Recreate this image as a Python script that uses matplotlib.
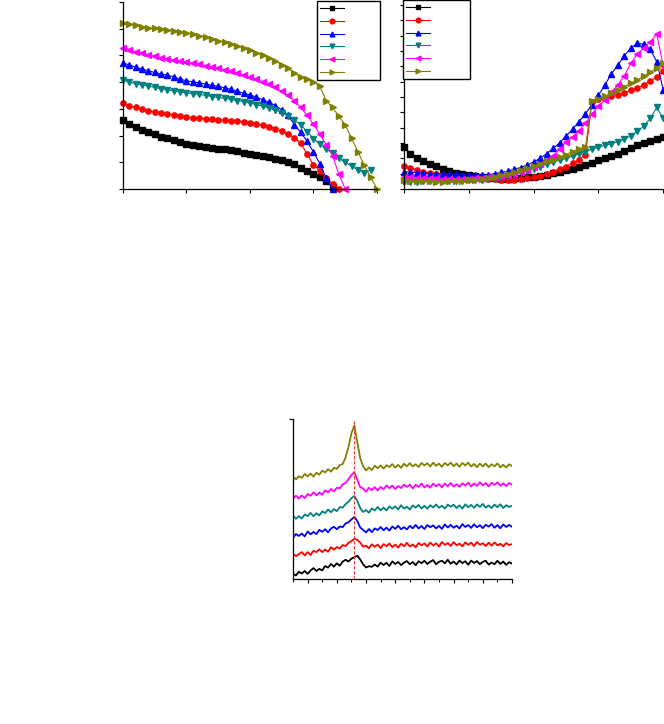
import matplotlib
matplotlib.use("Agg")
import matplotlib.pyplot as plt
from matplotlib.ticker import MultipleLocator

# shared x grid for the two upper panels
volt = [0.0, 0.1, 0.2, 0.3, 0.4, 0.5, 0.6, 0.7, 0.8, 0.9,
        1.0, 1.1, 1.2, 1.3, 1.4, 1.5, 1.6, 1.7, 1.8, 1.9,
        2.0, 2.1, 2.2, 2.3, 2.4, 2.5, 2.6, 2.7, 2.8, 2.9,
        3.0, 3.1, 3.2, 3.3, 3.4, 3.5, 3.6, 3.7, 3.8, 3.9, 4.0]

# upper left panel
jv_black = [2.58, 2.42, 2.32, 2.22, 2.12, 2.04, 1.96, 1.9, 1.82, 1.76,
            1.7, 1.65, 1.61, 1.57, 1.54, 1.51, 1.48, 1.45, 1.41, 1.36,
            1.32, 1.28, 1.24, 1.19, 1.13, 1.07, 1.0, 0.93, 0.78, 0.68,
            0.56, 0.45, 0.3, 0.08]
jv_red = [3.2, 3.12, 3.05, 2.98, 2.93, 2.89, 2.85, 2.81, 2.77, 2.73,
          2.7, 2.67, 2.65, 2.63, 2.61, 2.6, 2.58, 2.56, 2.54, 2.51,
          2.48, 2.44, 2.39, 2.33, 2.26, 2.16, 2.05, 1.92, 1.72, 1.3,
          0.9, 0.68, 0.4, 0.2, 0.0]
jv_blue = [4.72, 4.64, 4.56, 4.49, 4.42, 4.36, 4.3, 4.26, 4.2, 4.11,
           4.05, 4.01, 3.97, 3.93, 3.88, 3.84, 3.79, 3.73, 3.66, 3.58,
           3.52, 3.44, 3.34, 3.24, 3.12, 2.96, 2.76, 2.4, 2.12, 1.78,
           1.38, 0.95, 0.4, 0.0]
jv_teal = [4.08, 4.0, 3.94, 3.9, 3.85, 3.8, 3.75, 3.71, 3.67, 3.63,
           3.6, 3.57, 3.54, 3.5, 3.46, 3.43, 3.39, 3.35, 3.31, 3.27,
           3.22, 3.16, 3.1, 3.03, 2.96, 2.86, 2.74, 2.58, 2.4, 2.15,
           1.88, 1.68, 1.5, 1.33, 1.15, 1.0, 0.85, 0.72, 0.6, 0.72]
jv_magenta = [5.29, 5.22, 5.14, 5.09, 5.02, 4.97, 4.92, 4.87, 4.82, 4.78,
              4.74, 4.7, 4.66, 4.62, 4.57, 4.52, 4.46, 4.4, 4.33, 4.26,
              4.19, 4.11, 4.02, 3.92, 3.8, 3.66, 3.5, 3.3, 3.05, 2.75,
              2.42, 2.05, 1.66, 1.25, 0.55, 0.0]
jv_olive = [6.2, 6.16, 6.12, 6.08, 6.04, 6.01, 5.98, 5.95, 5.92, 5.88,
            5.84, 5.79, 5.74, 5.68, 5.62, 5.55, 5.49, 5.42, 5.35, 5.27,
            5.19, 5.1, 5.01, 4.9, 4.78, 4.65, 4.52, 4.35, 4.18, 4.1,
            4.02, 3.85, 3.3, 3.05, 2.72, 2.4, 1.9, 1.4, 0.88, 0.45, 0.0]

# upper right panel
r_black = [1.37, 1.15, 1.02, 0.92, 0.82, 0.74, 0.66, 0.6, 0.52, 0.48,
           0.45, 0.42, 0.39, 0.37, 0.35, 0.34, 0.34, 0.35, 0.36, 0.38,
           0.4, 0.43, 0.47, 0.51, 0.56, 0.61, 0.66, 0.72, 0.79, 0.86,
           0.93, 1.0, 1.07, 1.15, 1.24, 1.33, 1.42, 1.5, 1.58, 1.64, 1.7]
r_red = [0.75, 0.69, 0.62, 0.56, 0.51, 0.48, 0.45, 0.42, 0.4, 0.38,
         0.36, 0.35, 0.34, 0.33, 0.32, 0.3, 0.29, 0.3, 0.32, 0.35,
         0.38, 0.43, 0.49, 0.56, 0.64, 0.73, 0.84, 0.96, 1.12, 2.85,
         2.93, 2.98, 3.03, 3.08, 3.14, 3.22, 3.3, 3.4, 3.52, 3.65, 3.85]
r_blue = [0.56, 0.55, 0.53, 0.52, 0.5, 0.5, 0.49, 0.48, 0.48, 0.47,
          0.46, 0.46, 0.46, 0.47, 0.5, 0.54, 0.58, 0.64, 0.7, 0.78,
          0.88, 1.0, 1.15, 1.32, 1.5, 1.72, 1.95, 2.2, 2.45, 2.75,
          3.05, 3.4, 3.75, 4.05, 4.35, 4.6, 4.75, 4.72, 4.55, 4.15, 3.22]
r_teal = [0.23, 0.24, 0.24, 0.25, 0.25, 0.25, 0.26, 0.26, 0.27, 0.27,
          0.28, 0.29, 0.3, 0.32, 0.35, 0.38, 0.43, 0.48, 0.54, 0.6,
          0.66, 0.73, 0.8, 0.87, 0.94, 1.0, 1.07, 1.15, 1.22, 1.3,
          1.36, 1.42, 1.48, 1.54, 1.62, 1.74, 1.88, 2.05, 2.3, 2.66, 2.3]
r_magenta = [0.39, 0.38, 0.37, 0.36, 0.35, 0.35, 0.34, 0.34, 0.34, 0.34,
             0.34, 0.35, 0.36, 0.38, 0.4, 0.43, 0.46, 0.5, 0.56, 0.63,
             0.72, 0.82, 0.94, 1.08, 1.3, 1.52, 1.7, 1.9, 2.15, 2.45,
             2.7, 2.9, 3.15, 3.4, 3.7, 4.1, 4.4, 4.6, 4.8, 5.05, 4.0]
r_olive = [0.28, 0.27, 0.26, 0.25, 0.25, 0.24, 0.24, 0.25, 0.25, 0.26,
           0.28, 0.3, 0.32, 0.35, 0.4, 0.45, 0.5, 0.56, 0.62, 0.68,
           0.75, 0.82, 0.9, 0.96, 1.04, 1.12, 1.22, 1.3, 1.38, 2.88,
           2.95, 3.03, 3.12, 3.22, 3.34, 3.45, 3.56, 3.68, 3.8, 3.95, 4.1]

# lower panel (stacked patterns, 5..80 deg)
two_theta = [5, 6, 7, 8, 9, 10, 11, 12, 13, 14, 15, 16, 17, 18, 19, 20,
             21, 22, 23, 24, 25, 26, 27, 28, 29, 30, 31, 32, 33, 34, 35,
             36, 37, 38, 39, 40, 41, 42, 43, 44, 45, 46, 47, 48, 49, 50,
             51, 52, 53, 54, 55, 56, 57, 58, 59, 60, 61, 62, 63, 64, 65,
             66, 67, 68, 69, 70, 71, 72, 73, 74, 75, 76, 77, 78, 79, 80]
xrd_black = [0.33, 0.22, 0.45, 0.34, 0.50, 0.32, 0.53, 0.68, 0.50, 0.63, 0.54, 0.81, 0.71, 0.94, 0.77, 0.98,
             0.83, 1.08, 1.20, 1.09, 1.27, 1.36, 1.45, 1.22, 0.92, 0.72, 0.80, 0.76, 0.90, 0.77, 1.02,
             0.87, 1.01, 0.81, 1.10, 0.94, 1.06, 0.87, 1.02, 1.12, 0.92, 1.06, 0.86, 1.11, 0.99, 1.14,
             0.94, 1.08, 1.18, 0.92, 1.07, 1.14, 0.98, 1.20, 0.95, 1.09, 0.91, 1.15, 0.99, 1.11, 0.89,
             1.15, 1.00, 1.12, 0.93, 1.07, 1.14, 0.90, 1.03, 0.92, 1.14, 0.94, 1.09, 0.88, 1.05, 0.96]
xrd_red = [1.56, 1.43, 1.55, 1.68, 1.47, 1.68, 1.50, 1.76, 1.68, 1.85, 1.68, 1.84, 1.70, 1.99, 1.83, 2.00,
           1.90, 2.12, 2.06, 2.26, 2.36, 2.52, 2.44, 2.28, 2.02, 2.08, 1.92, 2.17, 2.01, 2.15, 1.93,
           2.18, 2.05, 2.22, 1.99, 2.15, 1.97, 2.20, 2.05, 2.26, 2.03, 2.16, 1.98, 2.25, 2.10, 2.23,
           2.03, 2.28, 2.09, 2.23, 2.03, 2.31, 2.13, 2.25, 2.07, 2.30, 2.11, 2.21, 2.04, 2.29, 2.13,
           2.27, 2.06, 2.31, 2.14, 2.23, 2.06, 2.27, 2.08, 2.29, 2.10, 2.20, 2.04, 2.25, 2.12, 2.18]
xrd_blue = [2.58, 2.81, 2.69, 2.84, 2.66, 2.97, 2.79, 2.94, 2.81, 3.07, 2.95, 3.11, 2.92, 3.16, 3.26, 3.11,
            3.28, 3.24, 3.47, 3.55, 3.72, 3.88, 3.62, 3.22, 3.07, 2.91, 3.12, 2.93, 3.16, 3.06, 3.25,
            3.04, 3.21, 3.02, 3.28, 3.13, 3.33, 3.11, 3.24, 3.10, 3.32, 3.17, 3.38, 3.16, 3.31, 3.12,
            3.37, 3.24, 3.35, 3.16, 3.32, 3.13, 3.41, 3.22, 3.38, 3.20, 3.33, 3.16, 3.43, 3.25, 3.37,
            3.19, 3.42, 3.23, 3.36, 3.18, 3.39, 3.27, 3.43, 3.20, 3.37, 3.17, 3.41, 3.25, 3.38, 3.26]
xrd_teal = [3.94, 3.76, 3.93, 3.78, 4.03, 3.93, 4.13, 3.92, 4.11, 3.97, 4.23, 4.12, 4.34, 4.17, 4.37, 4.24,
            4.49, 4.46, 4.68, 4.82, 5.05, 5.18, 4.88, 4.44, 4.19, 4.31, 4.14, 4.41, 4.28, 4.50, 4.29,
            4.46, 4.28, 4.54, 4.39, 4.54, 4.34, 4.61, 4.40, 4.52, 4.34, 4.60, 4.46, 4.63, 4.40, 4.58,
            4.39, 4.61, 4.47, 4.66, 4.45, 4.58, 4.40, 4.65, 4.52, 4.64, 4.43, 4.60, 4.40, 4.67, 4.48,
            4.63, 4.45, 4.66, 4.51, 4.69, 4.46, 4.60, 4.43, 4.65, 4.48, 4.67, 4.44, 4.61, 4.50, 4.58]
xrd_magenta = [5.01, 5.21, 5.02, 5.22, 5.05, 5.31, 5.20, 5.41, 5.23, 5.40, 5.27, 5.54, 5.42, 5.62, 5.48, 5.70,
               5.67, 5.91, 6.00, 6.24, 6.50, 6.68, 6.22, 5.74, 5.66, 5.45, 5.70, 5.55, 5.74, 5.53, 5.75,
               5.61, 5.85, 5.67, 5.84, 5.62, 5.81, 5.68, 5.90, 5.75, 5.89, 5.66, 5.89, 5.75, 5.97, 5.72,
               5.88, 5.71, 5.96, 5.80, 5.93, 5.72, 5.97, 5.79, 6.01, 5.78, 5.92, 5.76, 5.98, 5.84, 6.02,
               5.78, 5.97, 5.82, 6.05, 5.85, 6.00, 5.78, 6.02, 5.88, 6.04, 5.82, 5.98, 5.80, 6.00, 5.89]
xrd_olive = [6.40, 6.22, 6.42, 6.32, 6.56, 6.41, 6.59, 6.40, 6.64, 6.52, 6.77, 6.66, 6.86, 6.71, 6.95, 6.88,
             7.12, 7.18, 7.60, 8.25, 9.10, 9.60, 8.55, 7.55, 7.05, 6.78, 6.97, 6.81, 7.08, 6.92, 7.10,
             6.90, 7.11, 7.00, 7.18, 6.96, 7.13, 6.95, 7.20, 7.04, 7.24, 7.03, 7.17, 7.00, 7.25, 7.10,
             7.23, 7.03, 7.27, 7.08, 7.21, 7.01, 7.25, 7.10, 7.27, 7.05, 7.22, 7.01, 7.25, 7.09, 7.27,
             7.03, 7.19, 6.99, 7.21, 7.04, 7.22, 6.99, 7.17, 7.04, 7.22, 6.98, 7.14, 6.96, 7.17, 7.06]
peak_pos = 25.9

colors = ["black", "#ff0000", "#0000ff", "#008080", "#ff00ff", "#808000"]
markers = ["s", "o", "^", "v", "<", ">"]


def style_axes(ax):
    ax.spines["top"].set_visible(False)
    ax.spines["right"].set_visible(False)
    for s in ("left", "bottom"):
        ax.spines[s].set_linewidth(0.9)
    ax.tick_params(direction="out", length=3, width=0.8,
                   labelleft=False, labelbottom=False)


def add_legend(ax, handles, box):
    ax.legend(handles, [""] * len(handles), loc="upper left",
              bbox_to_anchor=box, mode="expand", borderaxespad=0,
              fontsize=6, labelspacing=0.45, handlelength=2.9,
              handletextpad=0.3, borderpad=0.35, markerscale=0.9,
              frameon=True, fancybox=False, edgecolor="black",
              framealpha=1)


fig = plt.figure(figsize=(6.64, 7.24), dpi=100)

# ---- upper left
ax1 = fig.add_axes([0.1852, 0.739, 0.3825, 0.2583])
left_series = [jv_black, jv_red, jv_blue, jv_teal, jv_magenta, jv_olive]
h1 = []
for ys, c, m in zip(left_series, colors, markers):
    ln, = ax1.plot(volt[:len(ys)], ys, color=c, marker=m, ms=3.8,
                   lw=0.8, clip_on=False)
    h1.append(ln)
ax1.set_xlim(0, 4)
ax1.set_ylim(0, 7)
ax1.xaxis.set_major_locator(MultipleLocator(1))
ax1.yaxis.set_major_locator(MultipleLocator(1))
style_axes(ax1)
add_legend(ax1, h1, (0.764, 0.0, 0.248, 1.005))

# ---- upper right
ax2 = fig.add_axes([0.6084, 0.739, 0.3905, 0.2541])
right_series = [r_black, r_red, r_blue, r_teal, r_magenta, r_olive]
h2 = []
for ys, c, m in zip(right_series, colors, markers):
    ln, = ax2.plot(volt, ys, color=c, marker=m, ms=3.8, lw=0.8,
                   clip_on=False)
    h2.append(ln)
ax2.set_xlim(0, 4)
ax2.set_ylim(0, 6)
ax2.xaxis.set_major_locator(MultipleLocator(1))
ax2.yaxis.set_major_locator(MultipleLocator(0.5))
style_axes(ax2)
add_legend(ax2, h2, (-0.004, 0.0, 0.258, 1.027))

# ---- lower panel
ax3 = fig.add_axes([0.4413, 0.2003, 0.3298, 0.221])
xrd_series = [xrd_black, xrd_red, xrd_blue, xrd_teal, xrd_magenta, xrd_olive]
for ys, c in zip(xrd_series, colors):
    ax3.plot(two_theta, ys, color=c, lw=1.3)
ax3.axvline(peak_pos, color="#e0403a", lw=0.8, ls=(0, (3, 1.5)), zorder=5)
ax3.set_xlim(5, 80)
ax3.set_ylim(0, 10)
ax3.xaxis.set_major_locator(MultipleLocator(10))
ax3.xaxis.set_minor_locator(MultipleLocator(5))
ax3.set_yticks([10])
style_axes(ax3)
ax3.tick_params(which="minor", direction="out", length=2, width=0.7)

fig.savefig("out.png", dpi=100)
